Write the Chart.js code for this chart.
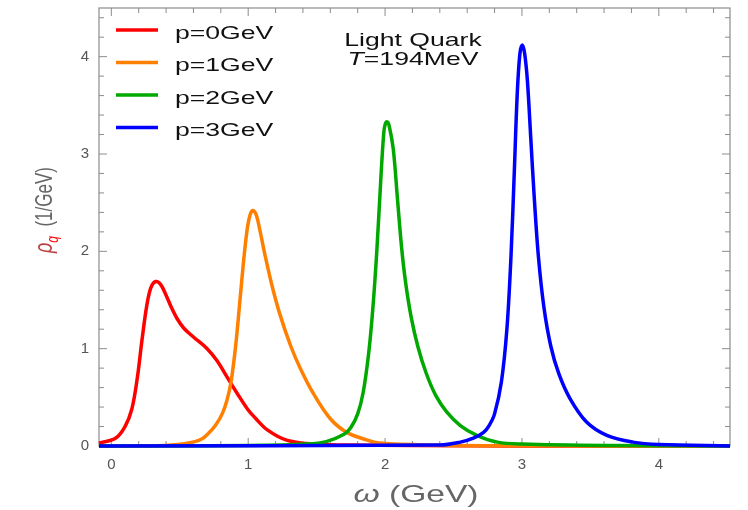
<!DOCTYPE html>
<html>
<head>
<meta charset="utf-8">
<script src="https://cdn.jsdelivr.net/npm/chart.js@4.4.1/dist/chart.umd.min.js"></script>
<style>
  html, body { margin: 0; padding: 0; background: #fff; }
  #wrap { width: 748px; height: 510px; }
</style>
</head>
<body>
<div id="wrap"><canvas id="c" width="748" height="510"></canvas></div>
<script>
// values (omega in GeV, rho in 1/GeV)
var OMEGA_P0 = [-0.09, 0.03, 0.1, 0.15, 0.19, 0.225, 0.26, 0.29, 0.325, 0.36, 0.4, 0.44, 0.48, 0.53, 0.6, 0.7, 0.77, 0.845, 0.92, 1.0, 1.05, 1.14, 1.28, 1.47, 1.7, 2.2, 3.0, 4.52];
var RHO_P0   = [0.03, 0.08, 0.2, 0.38, 0.70, 1.10, 1.45, 1.63, 1.69, 1.66, 1.55, 1.42, 1.31, 1.21, 1.12, 1.00, 0.88, 0.71, 0.54, 0.37, 0.29, 0.165, 0.06, 0.02, 0.01, 0.005, 0, 0];

var OMEGA_P1 = [-0.09, 0.3, 0.44, 0.61, 0.67, 0.71, 0.76, 0.81, 0.845, 0.876, 0.91, 0.94, 0.97, 0.995, 1.015, 1.035, 1.06, 1.085, 1.12, 1.17, 1.23, 1.31, 1.38, 1.48, 1.6, 1.72, 1.87, 1.96, 2.3, 3.0, 4.52];
var RHO_P1   = [0, 0.003, 0.01, 0.045, 0.08, 0.13, 0.21, 0.33, 0.47, 0.67, 1.05, 1.50, 1.95, 2.25, 2.38, 2.42, 2.37, 2.22, 1.98, 1.67, 1.36, 1.03, 0.80, 0.53, 0.28, 0.14, 0.06, 0.03, 0.01, 0.002, 0];

var OMEGA_P2 = [-0.09, 1.0, 1.43, 1.57, 1.7, 1.75, 1.8, 1.84, 1.88, 1.91, 1.94, 1.97, 1.99, 2.0, 2.015, 2.03, 2.06, 2.09, 2.12, 2.15, 2.19, 2.24, 2.3, 2.37, 2.45, 2.55, 2.67, 2.82, 3.0, 3.6, 4.52];
var RHO_P2   = [0, 0.005, 0.02, 0.045, 0.12, 0.19, 0.33, 0.55, 0.95, 1.40, 2.01, 2.77, 3.21, 3.30, 3.33, 3.29, 3.05, 2.55, 2.05, 1.68, 1.33, 1.02, 0.75, 0.52, 0.35, 0.21, 0.11, 0.04, 0.02, 0.005, 0];

var OMEGA_P3 = [-0.09, 2.4, 2.55, 2.645, 2.72, 2.76, 2.8, 2.85, 2.89, 2.92, 2.945, 2.965, 2.985, 3.003, 3.02, 3.04, 3.065, 3.09, 3.12, 3.16, 3.21, 3.27, 3.35, 3.47, 3.62, 3.81, 4.0, 4.52];
var RHO_P3   = [0, 0.01, 0.04, 0.08, 0.14, 0.21, 0.33, 0.66, 1.20, 1.95, 2.85, 3.60, 4.03, 4.12, 4.03, 3.75, 3.15, 2.55, 1.95, 1.43, 1.03, 0.74, 0.49, 0.25, 0.11, 0.04, 0.015, 0];

var SERIES_LABELS = ["p=0GeV", "p=1GeV", "p=2GeV", "p=3GeV"];
var SERIES_COLORS = ["#ff0000", "#ff8000", "#00a800", "#0000ff"];
var X_TICKS = [0, 1, 2, 3, 4];
var Y_TICKS = [0, 1, 2, 3, 4];
var X_RANGE = [-0.09, 4.52];
var Y_RANGE = [0, 4.5];

var SX = 1.4; // the reference text is stretched sideways
var FRAME = "#8c8c8c";

function pts(xs, ys) {
  return xs.map(function (x, i) { return { x: x, y: ys[i] }; });
}

function drawRun(ctx, parts, x, y, align) {
  var w = 0;
  parts.forEach(function (p) { ctx.font = p.font; w += ctx.measureText(p.text).width; });
  var cx = align === "center" ? -w / 2 : 0;
  ctx.save();
  ctx.translate(x, y);
  ctx.scale(SX, 1);
  ctx.textAlign = "left";
  ctx.textBaseline = "alphabetic";
  parts.forEach(function (p) {
    ctx.font = p.font;
    ctx.fillStyle = p.color;
    ctx.fillText(p.text, cx, p.dy || 0);
    cx += ctx.measureText(p.text).width;
  });
  ctx.restore();
}

var framePlugin = {
  id: "frame",
  beforeDatasetsDraw: function (chart) {
    var ctx = chart.ctx, a = chart.chartArea;
    var xs = chart.scales.x, ys = chart.scales.y;
    ctx.save();
    ctx.strokeStyle = FRAME;
    ctx.lineWidth = 1.2;
    ctx.strokeRect(a.left, a.top, a.right - a.left, a.bottom - a.top);
    ctx.lineWidth = 1;
    ctx.beginPath();
    // frame ticks every 0.2, pointing inward
    for (var k = 0; k <= 22; k++) {
      var v = k * 0.2;
      var len = k % 5 === 0 ? 8 : 5;
      var px = xs.getPixelForValue(v);
      if (px > a.left && px < a.right) {
        ctx.moveTo(px, a.bottom); ctx.lineTo(px, a.bottom - len);
        ctx.moveTo(px, a.top); ctx.lineTo(px, a.top + len);
      }
      var py = ys.getPixelForValue(v);
      if (py > a.top && py < a.bottom) {
        ctx.moveTo(a.left, py); ctx.lineTo(a.left + len, py);
        ctx.moveTo(a.right, py); ctx.lineTo(a.right - len, py);
      }
    }
    ctx.stroke();
    ctx.restore();
  },
  afterDraw: function (chart) {
    var ctx = chart.ctx;
    // legend
    SERIES_LABELS.forEach(function (lab, i) {
      var ly = 30 + i * 32.5;
      ctx.save();
      ctx.strokeStyle = SERIES_COLORS[i];
      ctx.lineWidth = 3.5;
      ctx.beginPath();
      ctx.moveTo(116, ly); ctx.lineTo(158, ly);
      ctx.stroke();
      ctx.restore();
      drawRun(ctx, [{ text: lab, font: "19px 'Liberation Sans'", color: "#111" }], 175, ly + 8.5, "left");
    });
    // note
    drawRun(ctx, [{ text: "Light Quark", font: "19px 'Liberation Sans'", color: "#111" }], 413, 46, "center");
    drawRun(ctx, [
      { text: "T", font: "italic 19px 'Liberation Sans'", color: "#111" },
      { text: "=194MeV", font: "19px 'Liberation Sans'", color: "#111" }
    ], 413, 65, "center");
    // x title
    drawRun(ctx, [
      { text: "\u03c9", font: "italic 24px 'Liberation Sans'", color: "#666" },
      { text: " (GeV)", font: "24px 'Liberation Sans'", color: "#666" }
    ], 416, 502, "center");
    // y title, rotated
    var parts = [
      { text: "\u03c1", font: "italic 18px 'Liberation Sans'", color: "#b84040" },
      { text: "q", font: "italic 12px 'Liberation Sans'", color: "#ff0000", dy: 4 },
      { text: "  (1/GeV)", font: "17px 'Liberation Sans'", color: "#666" }
    ];
    var w = 0;
    parts.forEach(function (p) { ctx.font = p.font; w += ctx.measureText(p.text).width; });
    ctx.save();
    ctx.translate(52, 210);
    ctx.rotate(-Math.PI / 2);
    ctx.scale(1, SX);
    ctx.textBaseline = "alphabetic";
    var cx = -w / 2;
    parts.forEach(function (p) {
      ctx.font = p.font;
      ctx.fillStyle = p.color;
      ctx.fillText(p.text, cx, p.dy || 0);
      cx += ctx.measureText(p.text).width;
    });
    ctx.restore();
  }
};

var seriesX = [OMEGA_P0, OMEGA_P1, OMEGA_P2, OMEGA_P3];
var seriesY = [RHO_P0, RHO_P1, RHO_P2, RHO_P3];

new Chart(document.getElementById("c"), {
  type: "line",
  data: {
    datasets: SERIES_LABELS.map(function (lab, i) {
      return {
        label: lab,
        data: pts(seriesX[i], seriesY[i]),
        borderColor: SERIES_COLORS[i],
        borderWidth: 3.5,
        pointRadius: 0,
        fill: false,
        tension: 0.35,
        order: 3 - i, // later series drawn on top
        clip: 4
      };
    })
  },
  options: {
    responsive: false,
    animation: false,
    events: [],
    layout: { padding: { left: 0, right: 18, top: 8, bottom: 0 } },
    plugins: { legend: { display: false }, tooltip: { enabled: false } },
    scales: {
      x: {
        type: "linear",
        min: X_RANGE[0],
        max: X_RANGE[1],
        afterBuildTicks: function (s) { s.ticks = X_TICKS.map(function (v) { return { value: v }; }); },
        afterFit: function (s) { s.height = 64; s.paddingLeft = 0; s.paddingRight = 0; },
        grid: { display: false, drawTicks: false },
        border: { display: false },
        ticks: { color: "#555", font: { size: 15, family: "Liberation Sans" }, padding: 10, maxRotation: 0 }
      },
      y: {
        type: "linear",
        min: Y_RANGE[0],
        max: Y_RANGE[1],
        afterBuildTicks: function (s) { s.ticks = Y_TICKS.map(function (v) { return { value: v }; }); },
        afterFit: function (s) { s.width = 99; s.paddingTop = 0; s.paddingBottom = 0; },
        grid: { display: false, drawTicks: false },
        border: { display: false },
        ticks: { color: "#555", font: { size: 15, family: "Liberation Sans" }, padding: 10 }
      }
    }
  },
  plugins: [framePlugin]
});
</script>
</body>
</html>
